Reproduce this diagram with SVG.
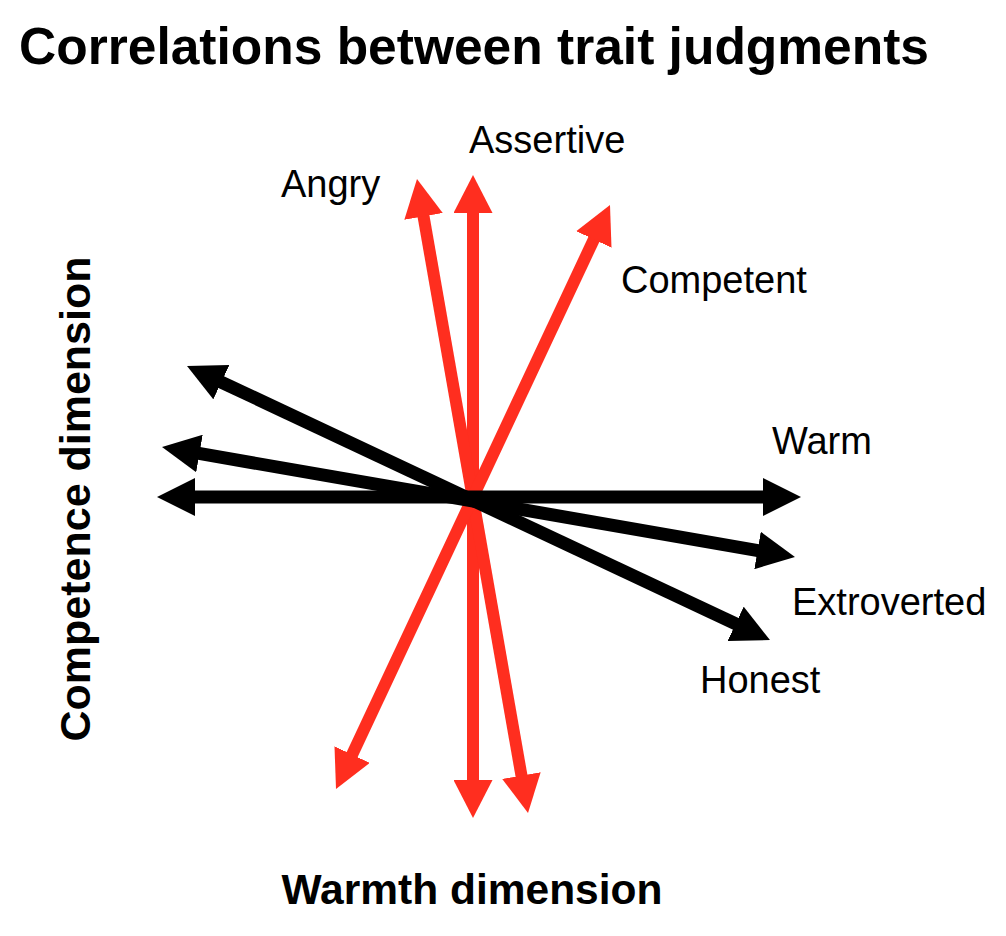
<svg xmlns="http://www.w3.org/2000/svg" width="1006" height="936" viewBox="0 0 1006 936">
  <style>
    .lbl { font-family: "Liberation Sans", Arial, sans-serif; font-size: 38px; fill: #000; }
    .bold { font-family: "Liberation Sans", Arial, sans-serif; font-weight: bold; fill: #000; }
    .red { stroke: #ff2e1f; stroke-width: 12; fill: none; marker-start: url(#hr); marker-end: url(#hr); }
    .blk { stroke: #000; stroke-width: 13; fill: none; marker-start: url(#hb); marker-end: url(#hb); }
  </style>
  <defs>
    <marker id="hr" markerUnits="userSpaceOnUse" markerWidth="38" markerHeight="39" viewBox="0 0 38 39" refX="2" refY="19.5" orient="auto-start-reverse">
      <path d="M0,0 L38,19.5 L0,39 Z" fill="#ff2e1f"/>
    </marker>
    <marker id="hb" markerUnits="userSpaceOnUse" markerWidth="38" markerHeight="38" viewBox="0 0 38 38" refX="2" refY="19" orient="auto-start-reverse">
      <path d="M0,0 L38,19 L0,38 Z" fill="#000"/>
    </marker>
  </defs>
  <rect width="1006" height="936" fill="#fff"/>

  <g id="title">
    <text class="bold" x="19" y="64" font-size="51.5">Correlations between trait judgments</text>
  </g>

  <g id="connectors">
    <line id="arrow-assertive" class="red" x1="473" y1="211" x2="473" y2="782"/>
    <line id="arrow-angry" class="red" x1="423.2" y1="214.5" x2="521.8" y2="777.5"/>
    <line id="arrow-competent" class="red" x1="594.7" y1="237.6" x2="351.3" y2="756.4"/>
    <line id="arrow-warm" class="blk" x1="193" y1="497" x2="765" y2="497"/>
    <line id="arrow-extroverted" class="blk" x1="197.5" y1="453.2" x2="759.5" y2="550.8"/>
    <line id="arrow-honest" class="blk" x1="219.6" y1="381.3" x2="737.4" y2="624.7"/>
  </g>

  <g id="label-assertive"><text class="lbl" x="469" y="153">Assertive</text></g>
  <g id="label-angry"><text class="lbl" x="281" y="197">Angry</text></g>
  <g id="label-competent"><text class="lbl" x="621" y="293">Competent</text></g>
  <g id="label-warm"><text class="lbl" x="772" y="454">Warm</text></g>
  <g id="label-extroverted"><text class="lbl" x="792" y="615">Extroverted</text></g>
  <g id="label-honest"><text class="lbl" x="700" y="693">Honest</text></g>

  <g id="axis-warmth">
    <text class="bold" x="472" y="904" font-size="42.5" text-anchor="middle">Warmth dimension</text>
  </g>
  <g id="axis-competence">
    <text class="bold" font-size="43" text-anchor="middle" transform="translate(90,499) rotate(-90)">Competence dimension</text>
  </g>
</svg>
